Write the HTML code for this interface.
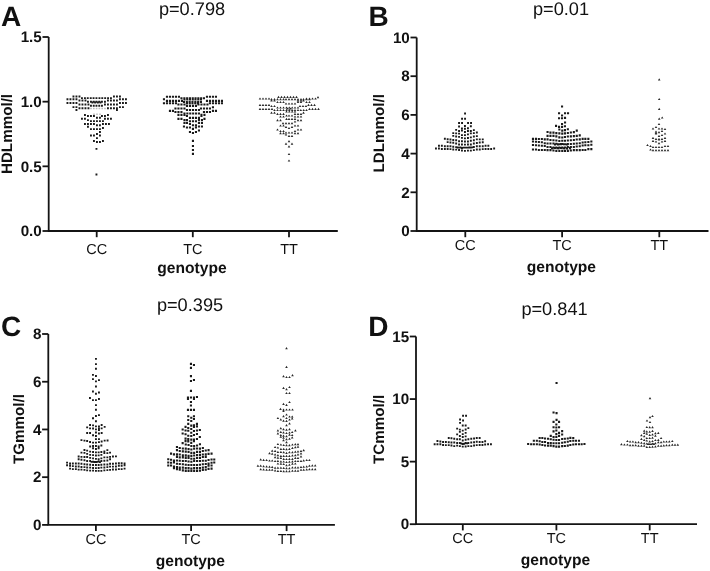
<!DOCTYPE html>
<html><head><meta charset="utf-8"><style>
html,body{margin:0;padding:0;background:#fff;}
svg{display:block;will-change:transform;}
text{font-family:"Liberation Sans", sans-serif;fill:#111111;text-rendering:geometricPrecision;}
</style></head><body>
<svg width="710" height="571" viewBox="0 0 710 571">
<rect width="710" height="571" fill="#fff"/>
<path d="M48.7 37.0V231.0H337.8" fill="none" stroke="#141414" stroke-width="1.8"/>
<path d="M42.5 37.00H48.7" stroke="#141414" stroke-width="1.8"/>
<text x="41.80" y="42.20" font-size="15.2" font-weight="bold" text-anchor="end">1.5</text>
<path d="M42.5 101.67H48.7" stroke="#141414" stroke-width="1.8"/>
<text x="41.80" y="106.87" font-size="15.2" font-weight="bold" text-anchor="end">1.0</text>
<path d="M42.5 166.33H48.7" stroke="#141414" stroke-width="1.8"/>
<text x="41.80" y="171.53" font-size="15.2" font-weight="bold" text-anchor="end">0.5</text>
<path d="M42.5 231.00H48.7" stroke="#141414" stroke-width="1.8"/>
<text x="41.80" y="236.20" font-size="15.2" font-weight="bold" text-anchor="end">0.0</text>
<path d="M96.7 231.0V237.20" stroke="#141414" stroke-width="1.8"/>
<text x="96.70" y="254.00" font-size="14.5" text-anchor="middle">CC</text>
<path d="M192.8 231.0V237.20" stroke="#141414" stroke-width="1.8"/>
<text x="192.80" y="254.00" font-size="14.5" text-anchor="middle">TC</text>
<path d="M289.0 231.0V237.20" stroke="#141414" stroke-width="1.8"/>
<text x="289.00" y="254.00" font-size="14.5" text-anchor="middle">TT</text>
<text x="192.0" y="14.6" font-size="18.2" text-anchor="middle">p=0.798</text>
<text x="192.0" y="273.0" font-size="15.6" font-weight="bold" text-anchor="middle">genotype</text>
<text x="0.9" y="25.9" font-size="28" font-weight="bold">A</text>
<text transform="translate(12.3 134.0) rotate(-90)" font-size="15.2" font-weight="bold" text-anchor="middle">HDLmmol/l</text>
<path d="M416.7 37.5V231.0H708.5" fill="none" stroke="#141414" stroke-width="1.8"/>
<path d="M410.5 37.50H416.7" stroke="#141414" stroke-width="1.8"/>
<text x="409.80" y="42.70" font-size="15.2" font-weight="bold" text-anchor="end">10</text>
<path d="M410.5 76.20H416.7" stroke="#141414" stroke-width="1.8"/>
<text x="409.80" y="81.40" font-size="15.2" font-weight="bold" text-anchor="end">8</text>
<path d="M410.5 114.90H416.7" stroke="#141414" stroke-width="1.8"/>
<text x="409.80" y="120.10" font-size="15.2" font-weight="bold" text-anchor="end">6</text>
<path d="M410.5 153.60H416.7" stroke="#141414" stroke-width="1.8"/>
<text x="409.80" y="158.80" font-size="15.2" font-weight="bold" text-anchor="end">4</text>
<path d="M410.5 192.30H416.7" stroke="#141414" stroke-width="1.8"/>
<text x="409.80" y="197.50" font-size="15.2" font-weight="bold" text-anchor="end">2</text>
<path d="M410.5 231.00H416.7" stroke="#141414" stroke-width="1.8"/>
<text x="409.80" y="236.20" font-size="15.2" font-weight="bold" text-anchor="end">0</text>
<path d="M465.3 231.0V237.20" stroke="#141414" stroke-width="1.8"/>
<text x="465.30" y="250.00" font-size="14.5" text-anchor="middle">CC</text>
<path d="M562.1 231.0V237.20" stroke="#141414" stroke-width="1.8"/>
<text x="562.10" y="250.00" font-size="14.5" text-anchor="middle">TC</text>
<path d="M659.3 231.0V237.20" stroke="#141414" stroke-width="1.8"/>
<text x="659.30" y="250.00" font-size="14.5" text-anchor="middle">TT</text>
<text x="561.0" y="14.5" font-size="18.2" text-anchor="middle">p=0.01</text>
<text x="561.4" y="272.0" font-size="15.6" font-weight="bold" text-anchor="middle">genotype</text>
<text x="368.4" y="25.9" font-size="28" font-weight="bold">B</text>
<text transform="translate(383.6 133.2) rotate(-90)" font-size="15.2" font-weight="bold" text-anchor="middle">LDLmmol/l</text>
<path d="M48.3 334.0V524.9H334.9" fill="none" stroke="#141414" stroke-width="1.8"/>
<path d="M42.099999999999994 334.00H48.3" stroke="#141414" stroke-width="1.8"/>
<text x="41.40" y="339.20" font-size="15.2" font-weight="bold" text-anchor="end">8</text>
<path d="M42.099999999999994 381.73H48.3" stroke="#141414" stroke-width="1.8"/>
<text x="41.40" y="386.93" font-size="15.2" font-weight="bold" text-anchor="end">6</text>
<path d="M42.099999999999994 429.45H48.3" stroke="#141414" stroke-width="1.8"/>
<text x="41.40" y="434.65" font-size="15.2" font-weight="bold" text-anchor="end">4</text>
<path d="M42.099999999999994 477.17H48.3" stroke="#141414" stroke-width="1.8"/>
<text x="41.40" y="482.37" font-size="15.2" font-weight="bold" text-anchor="end">2</text>
<path d="M42.099999999999994 524.90H48.3" stroke="#141414" stroke-width="1.8"/>
<text x="41.40" y="530.10" font-size="15.2" font-weight="bold" text-anchor="end">0</text>
<path d="M95.9 524.9V531.10" stroke="#141414" stroke-width="1.8"/>
<text x="95.90" y="543.80" font-size="14.5" text-anchor="middle">CC</text>
<path d="M191.1 524.9V531.10" stroke="#141414" stroke-width="1.8"/>
<text x="191.10" y="543.80" font-size="14.5" text-anchor="middle">TC</text>
<path d="M286.6 524.9V531.10" stroke="#141414" stroke-width="1.8"/>
<text x="286.60" y="543.80" font-size="14.5" text-anchor="middle">TT</text>
<text x="190.0" y="311.4" font-size="18.2" text-anchor="middle">p=0.395</text>
<text x="190.4" y="565.7" font-size="15.6" font-weight="bold" text-anchor="middle">genotype</text>
<text x="0.9" y="336.2" font-size="28" font-weight="bold">C</text>
<text transform="translate(23.6 429.0) rotate(-90)" font-size="15.2" font-weight="bold" text-anchor="middle">TGmmol/l</text>
<path d="M416.0 336.5V524.2H697.0" fill="none" stroke="#141414" stroke-width="1.8"/>
<path d="M409.8 336.50H416.0" stroke="#141414" stroke-width="1.8"/>
<text x="409.10" y="341.70" font-size="15.2" font-weight="bold" text-anchor="end">15</text>
<path d="M409.8 399.07H416.0" stroke="#141414" stroke-width="1.8"/>
<text x="409.10" y="404.27" font-size="15.2" font-weight="bold" text-anchor="end">10</text>
<path d="M409.8 461.63H416.0" stroke="#141414" stroke-width="1.8"/>
<text x="409.10" y="466.83" font-size="15.2" font-weight="bold" text-anchor="end">5</text>
<path d="M409.8 524.20H416.0" stroke="#141414" stroke-width="1.8"/>
<text x="409.10" y="529.40" font-size="15.2" font-weight="bold" text-anchor="end">0</text>
<path d="M462.8 524.2V530.40" stroke="#141414" stroke-width="1.8"/>
<text x="462.80" y="542.90" font-size="14.5" text-anchor="middle">CC</text>
<path d="M556.4 524.2V530.40" stroke="#141414" stroke-width="1.8"/>
<text x="556.40" y="542.90" font-size="14.5" text-anchor="middle">TC</text>
<path d="M649.7 524.2V530.40" stroke="#141414" stroke-width="1.8"/>
<text x="649.70" y="542.90" font-size="14.5" text-anchor="middle">TT</text>
<text x="554.5" y="314.6" font-size="18.2" text-anchor="middle">p=0.841</text>
<text x="555.5" y="565.0" font-size="15.6" font-weight="bold" text-anchor="middle">genotype</text>
<text x="368.3" y="335.6" font-size="28" font-weight="bold">D</text>
<text transform="translate(384.2 429.5) rotate(-90)" font-size="15.2" font-weight="bold" text-anchor="middle">TCmmol/l</text>
<path fill="#1a1a1a" d="M72.5 95.5h1.9v1.9h-1.9zM75.5 95.5h1.9v1.9h-1.9zM78.5 95.5h1.9v1.9h-1.9zM113.0 95.5h1.9v1.9h-1.9zM116.0 95.5h1.9v1.9h-1.9zM119.0 95.5h1.9v1.9h-1.9zM81.0 97.2h1.9v1.9h-1.9zM84.0 97.2h1.9v1.9h-1.9zM86.8 97.2h1.9v1.9h-1.9zM89.8 97.2h1.9v1.9h-1.9zM92.6 97.2h1.9v1.9h-1.9zM95.5 97.2h1.9v1.9h-1.9zM98.5 97.2h1.9v1.9h-1.9zM101.3 97.2h1.9v1.9h-1.9zM104.2 97.2h1.9v1.9h-1.9zM107.1 97.2h1.9v1.9h-1.9zM110.0 97.2h1.9v1.9h-1.9zM66.5 98.3h1.9v1.9h-1.9zM69.5 98.3h1.9v1.9h-1.9zM72.5 98.3h1.9v1.9h-1.9zM75.5 98.3h1.9v1.9h-1.9zM119.0 98.3h1.9v1.9h-1.9zM122.0 98.3h1.9v1.9h-1.9zM125.0 98.3h1.9v1.9h-1.9zM78.5 99.5h1.9v1.9h-1.9zM81.5 99.5h1.9v1.9h-1.9zM84.5 99.5h1.9v1.9h-1.9zM107.0 99.5h1.9v1.9h-1.9zM110.0 99.5h1.9v1.9h-1.9zM113.0 99.5h1.9v1.9h-1.9zM116.0 99.5h1.9v1.9h-1.9zM87.0 100.8h1.9v1.9h-1.9zM90.0 100.8h1.9v1.9h-1.9zM92.8 100.8h1.9v1.9h-1.9zM95.5 100.8h1.9v1.9h-1.9zM98.3 100.8h1.9v1.9h-1.9zM101.0 100.8h1.9v1.9h-1.9zM104.0 100.8h1.9v1.9h-1.9zM91.5 101.5h1.9v1.9h-1.9zM94.2 101.5h1.9v1.9h-1.9zM96.9 101.5h1.9v1.9h-1.9zM99.5 101.5h1.9v1.9h-1.9zM66.5 102.0h1.9v1.9h-1.9zM69.5 102.0h1.9v1.9h-1.9zM72.5 102.0h1.9v1.9h-1.9zM75.5 102.0h1.9v1.9h-1.9zM119.0 102.0h1.9v1.9h-1.9zM122.0 102.0h1.9v1.9h-1.9zM125.0 102.0h1.9v1.9h-1.9zM78.5 103.5h1.9v1.9h-1.9zM81.5 103.5h1.9v1.9h-1.9zM84.5 103.5h1.9v1.9h-1.9zM87.5 103.5h1.9v1.9h-1.9zM104.0 103.5h1.9v1.9h-1.9zM107.0 103.5h1.9v1.9h-1.9zM110.0 103.5h1.9v1.9h-1.9zM113.0 103.5h1.9v1.9h-1.9zM116.0 103.5h1.9v1.9h-1.9zM90.0 104.8h1.9v1.9h-1.9zM92.8 104.8h1.9v1.9h-1.9zM95.5 104.8h1.9v1.9h-1.9zM98.3 104.8h1.9v1.9h-1.9zM101.0 104.8h1.9v1.9h-1.9zM72.5 106.2h1.9v1.9h-1.9zM75.5 106.2h1.9v1.9h-1.9zM119.0 106.2h1.9v1.9h-1.9zM122.0 106.2h1.9v1.9h-1.9zM78.5 107.3h1.9v1.9h-1.9zM81.5 107.3h1.9v1.9h-1.9zM84.5 107.3h1.9v1.9h-1.9zM87.5 107.3h1.9v1.9h-1.9zM107.0 107.3h1.9v1.9h-1.9zM110.0 107.3h1.9v1.9h-1.9zM113.0 107.3h1.9v1.9h-1.9zM116.0 107.3h1.9v1.9h-1.9zM75.5 109.0h1.9v1.9h-1.9zM116.0 109.0h1.9v1.9h-1.9zM84.0 114.0h1.9v1.9h-1.9zM107.0 114.0h1.9v1.9h-1.9zM87.0 115.0h1.9v1.9h-1.9zM90.0 115.0h1.9v1.9h-1.9zM93.0 115.0h1.9v1.9h-1.9zM101.0 115.0h1.9v1.9h-1.9zM104.0 115.0h1.9v1.9h-1.9zM96.0 116.8h1.9v1.9h-1.9zM99.0 116.8h1.9v1.9h-1.9zM81.0 117.8h1.9v1.9h-1.9zM84.0 117.8h1.9v1.9h-1.9zM104.0 117.8h1.9v1.9h-1.9zM107.0 117.8h1.9v1.9h-1.9zM110.0 117.8h1.9v1.9h-1.9zM87.0 119.2h1.9v1.9h-1.9zM90.0 120.2h1.9v1.9h-1.9zM93.0 120.2h1.9v1.9h-1.9zM96.0 120.2h1.9v1.9h-1.9zM99.0 120.2h1.9v1.9h-1.9zM102.0 120.2h1.9v1.9h-1.9zM84.0 123.0h1.9v1.9h-1.9zM87.0 123.0h1.9v1.9h-1.9zM90.0 123.0h1.9v1.9h-1.9zM93.0 123.0h1.9v1.9h-1.9zM102.0 123.0h1.9v1.9h-1.9zM105.0 123.0h1.9v1.9h-1.9zM108.0 123.0h1.9v1.9h-1.9zM96.0 124.3h1.9v1.9h-1.9zM99.0 124.3h1.9v1.9h-1.9zM87.0 125.8h1.9v1.9h-1.9zM102.0 127.0h1.9v1.9h-1.9zM90.0 128.2h1.9v1.9h-1.9zM93.0 128.2h1.9v1.9h-1.9zM96.0 128.2h1.9v1.9h-1.9zM99.0 128.2h1.9v1.9h-1.9zM99.0 131.1h1.9v1.9h-1.9zM96.0 133.1h1.9v1.9h-1.9zM90.0 134.6h1.9v1.9h-1.9zM93.0 134.6h1.9v1.9h-1.9zM99.0 134.6h1.9v1.9h-1.9zM96.0 137.2h1.9v1.9h-1.9zM93.0 140.1h1.9v1.9h-1.9zM102.0 140.1h1.9v1.9h-1.9zM96.0 141.1h1.9v1.9h-1.9zM99.0 141.1h1.9v1.9h-1.9zM95.5 147.9h1.9v1.9h-1.9zM95.5 173.5h1.9v1.9h-1.9z"/>
<path fill="#bbbbbb" d="M90.2 107.7h1.6v1.6h-1.6zM93.0 107.7h1.6v1.6h-1.6zM95.8 107.7h1.6v1.6h-1.6zM98.6 107.7h1.6v1.6h-1.6zM101.4 107.7h1.6v1.6h-1.6zM104.2 107.7h1.6v1.6h-1.6zM93.2 113.4h1.6v1.6h-1.6zM96.2 113.4h1.6v1.6h-1.6zM99.2 113.4h1.6v1.6h-1.6z"/>
<path fill="#1a1a1a" d="M165.9 95.7h2.1v2.1h-2.1zM168.9 95.7h2.1v2.1h-2.1zM171.9 95.7h2.1v2.1h-2.1zM174.9 95.7h2.1v2.1h-2.1zM177.9 95.7h2.1v2.1h-2.1zM205.9 95.7h2.1v2.1h-2.1zM208.9 95.7h2.1v2.1h-2.1zM211.9 95.7h2.1v2.1h-2.1zM214.9 95.7h2.1v2.1h-2.1zM180.4 97.2h2.1v2.1h-2.1zM183.3 97.2h2.1v2.1h-2.1zM186.1 97.2h2.1v2.1h-2.1zM188.9 97.2h2.1v2.1h-2.1zM191.7 97.2h2.1v2.1h-2.1zM194.5 97.2h2.1v2.1h-2.1zM197.3 97.2h2.1v2.1h-2.1zM200.1 97.2h2.1v2.1h-2.1zM202.9 97.2h2.1v2.1h-2.1zM162.9 98.2h2.1v2.1h-2.1zM183.4 98.5h2.1v2.1h-2.1zM186.2 98.5h2.1v2.1h-2.1zM188.9 98.5h2.1v2.1h-2.1zM191.7 98.5h2.1v2.1h-2.1zM194.4 98.5h2.1v2.1h-2.1zM197.2 98.5h2.1v2.1h-2.1zM199.9 98.5h2.1v2.1h-2.1zM165.9 99.8h2.1v2.1h-2.1zM168.9 99.8h2.1v2.1h-2.1zM171.9 99.8h2.1v2.1h-2.1zM174.9 99.8h2.1v2.1h-2.1zM177.9 99.8h2.1v2.1h-2.1zM180.9 99.8h2.1v2.1h-2.1zM205.9 99.8h2.1v2.1h-2.1zM208.9 99.8h2.1v2.1h-2.1zM211.9 99.8h2.1v2.1h-2.1zM214.9 99.8h2.1v2.1h-2.1zM217.9 99.8h2.1v2.1h-2.1zM220.9 99.8h2.1v2.1h-2.1zM182.9 101.0h2.1v2.1h-2.1zM185.8 101.0h2.1v2.1h-2.1zM188.6 101.0h2.1v2.1h-2.1zM191.4 101.0h2.1v2.1h-2.1zM194.3 101.0h2.1v2.1h-2.1zM197.1 101.0h2.1v2.1h-2.1zM199.9 101.0h2.1v2.1h-2.1zM162.9 102.2h2.1v2.1h-2.1zM165.9 102.2h2.1v2.1h-2.1zM168.9 102.2h2.1v2.1h-2.1zM171.9 102.2h2.1v2.1h-2.1zM174.9 102.2h2.1v2.1h-2.1zM208.9 102.2h2.1v2.1h-2.1zM211.9 102.2h2.1v2.1h-2.1zM214.9 102.2h2.1v2.1h-2.1zM217.9 102.2h2.1v2.1h-2.1zM220.9 102.2h2.1v2.1h-2.1zM185.9 102.2h2.1v2.1h-2.1zM188.7 102.2h2.1v2.1h-2.1zM191.4 102.2h2.1v2.1h-2.1zM194.2 102.2h2.1v2.1h-2.1zM196.9 102.2h2.1v2.1h-2.1zM177.4 103.5h2.1v2.1h-2.1zM180.4 103.5h2.1v2.1h-2.1zM183.4 103.5h2.1v2.1h-2.1zM197.4 103.5h2.1v2.1h-2.1zM200.4 103.5h2.1v2.1h-2.1zM203.4 103.5h2.1v2.1h-2.1zM206.4 103.5h2.1v2.1h-2.1zM185.9 104.8h2.1v2.1h-2.1zM188.9 104.8h2.1v2.1h-2.1zM191.9 104.8h2.1v2.1h-2.1zM194.9 104.8h2.1v2.1h-2.1zM211.9 106.2h2.1v2.1h-2.1zM174.4 107.5h2.1v2.1h-2.1zM177.4 107.5h2.1v2.1h-2.1zM180.4 107.5h2.1v2.1h-2.1zM183.4 107.5h2.1v2.1h-2.1zM199.9 107.5h2.1v2.1h-2.1zM202.9 107.5h2.1v2.1h-2.1zM205.9 107.5h2.1v2.1h-2.1zM208.9 107.5h2.1v2.1h-2.1zM185.9 109.0h2.1v2.1h-2.1zM188.9 109.0h2.1v2.1h-2.1zM191.9 109.0h2.1v2.1h-2.1zM194.9 109.0h2.1v2.1h-2.1zM197.9 109.0h2.1v2.1h-2.1zM168.9 109.8h2.1v2.1h-2.1zM171.9 109.8h2.1v2.1h-2.1zM211.9 109.8h2.1v2.1h-2.1zM214.9 109.8h2.1v2.1h-2.1zM174.4 111.0h2.1v2.1h-2.1zM177.4 111.0h2.1v2.1h-2.1zM180.4 111.0h2.1v2.1h-2.1zM202.9 111.0h2.1v2.1h-2.1zM205.9 111.0h2.1v2.1h-2.1zM208.9 111.0h2.1v2.1h-2.1zM183.4 112.5h2.1v2.1h-2.1zM186.3 112.5h2.1v2.1h-2.1zM189.2 112.5h2.1v2.1h-2.1zM192.1 112.5h2.1v2.1h-2.1zM195.0 112.5h2.1v2.1h-2.1zM197.9 112.5h2.1v2.1h-2.1zM177.4 113.8h2.1v2.1h-2.1zM180.4 113.8h2.1v2.1h-2.1zM183.4 113.8h2.1v2.1h-2.1zM200.4 113.8h2.1v2.1h-2.1zM203.4 113.8h2.1v2.1h-2.1zM185.9 115.0h2.1v2.1h-2.1zM200.4 115.0h2.1v2.1h-2.1zM188.9 116.8h2.1v2.1h-2.1zM191.9 116.8h2.1v2.1h-2.1zM194.9 116.8h2.1v2.1h-2.1zM197.9 116.8h2.1v2.1h-2.1zM177.4 117.8h2.1v2.1h-2.1zM180.4 117.8h2.1v2.1h-2.1zM203.4 117.8h2.1v2.1h-2.1zM183.4 119.0h2.1v2.1h-2.1zM185.9 119.0h2.1v2.1h-2.1zM197.9 119.0h2.1v2.1h-2.1zM200.9 119.0h2.1v2.1h-2.1zM188.9 120.2h2.1v2.1h-2.1zM191.9 120.2h2.1v2.1h-2.1zM194.9 120.2h2.1v2.1h-2.1zM183.4 121.8h2.1v2.1h-2.1zM185.9 121.8h2.1v2.1h-2.1zM197.9 121.8h2.1v2.1h-2.1zM200.9 121.8h2.1v2.1h-2.1zM188.9 123.0h2.1v2.1h-2.1zM191.9 124.2h2.1v2.1h-2.1zM194.9 124.2h2.1v2.1h-2.1zM182.9 125.5h2.1v2.1h-2.1zM197.9 125.5h2.1v2.1h-2.1zM200.9 125.5h2.1v2.1h-2.1zM185.9 126.5h2.1v2.1h-2.1zM188.9 126.5h2.1v2.1h-2.1zM194.9 126.5h2.1v2.1h-2.1zM191.9 127.8h2.1v2.1h-2.1zM197.9 129.4h2.1v2.1h-2.1zM188.9 130.9h2.1v2.1h-2.1zM194.9 130.9h2.1v2.1h-2.1zM191.9 131.9h2.1v2.1h-2.1zM191.9 139.8h2.1v2.1h-2.1zM191.9 144.9h2.1v2.1h-2.1zM191.9 148.9h2.1v2.1h-2.1zM191.9 152.8h2.1v2.1h-2.1z"/>
<path fill="#2a2a2a" d="M277.2 97.9l1.30-2.2l1.30 2.2zM280.2 97.9l1.30-2.2l1.30 2.2zM283.2 97.9l1.30-2.2l1.30 2.2zM286.2 97.9l1.30-2.2l1.30 2.2zM289.2 97.9l1.30-2.2l1.30 2.2zM292.2 97.9l1.30-2.2l1.30 2.2zM295.2 97.9l1.30-2.2l1.30 2.2zM316.7 98.3l1.30-2.2l1.30 2.2zM258.7 99.6l1.30-2.2l1.30 2.2zM261.7 99.6l1.30-2.2l1.30 2.2zM264.7 99.6l1.30-2.2l1.30 2.2zM267.7 99.6l1.30-2.2l1.30 2.2zM305.2 99.6l1.30-2.2l1.30 2.2zM308.2 99.6l1.30-2.2l1.30 2.2zM311.2 99.6l1.30-2.2l1.30 2.2zM314.2 99.6l1.30-2.2l1.30 2.2zM270.2 100.3l1.30-2.2l1.30 2.2zM273.2 100.3l1.30-2.2l1.30 2.2zM276.2 100.3l1.30-2.2l1.30 2.2zM279.2 100.3l1.30-2.2l1.30 2.2zM282.2 100.3l1.30-2.2l1.30 2.2zM284.7 100.3l1.30-2.2l1.30 2.2zM287.7 100.3l1.30-2.2l1.30 2.2zM290.7 100.3l1.30-2.2l1.30 2.2zM293.7 100.3l1.30-2.2l1.30 2.2zM296.7 100.3l1.30-2.2l1.30 2.2zM299.7 100.3l1.30-2.2l1.30 2.2zM302.2 100.3l1.30-2.2l1.30 2.2zM305.2 100.3l1.30-2.2l1.30 2.2zM308.2 100.3l1.30-2.2l1.30 2.2zM270.2 101.6l1.30-2.2l1.30 2.2zM273.2 101.6l1.30-2.2l1.30 2.2zM296.7 101.6l1.30-2.2l1.30 2.2zM299.7 101.6l1.30-2.2l1.30 2.2zM302.2 101.6l1.30-2.2l1.30 2.2zM276.2 103.1l1.30-2.2l1.30 2.2zM279.2 103.1l1.30-2.2l1.30 2.2zM282.2 103.1l1.30-2.2l1.30 2.2zM296.7 103.1l1.30-2.2l1.30 2.2zM299.7 103.1l1.30-2.2l1.30 2.2zM305.2 103.1l1.30-2.2l1.30 2.2zM308.2 103.1l1.30-2.2l1.30 2.2zM284.7 104.6l1.30-2.2l1.30 2.2zM287.7 104.6l1.30-2.2l1.30 2.2zM290.7 104.6l1.30-2.2l1.30 2.2zM293.7 104.6l1.30-2.2l1.30 2.2zM258.7 105.9l1.30-2.2l1.30 2.2zM261.7 105.9l1.30-2.2l1.30 2.2zM264.7 105.9l1.30-2.2l1.30 2.2zM267.7 105.9l1.30-2.2l1.30 2.2zM307.2 105.9l1.30-2.2l1.30 2.2zM310.2 105.9l1.30-2.2l1.30 2.2zM313.2 105.9l1.30-2.2l1.30 2.2zM270.2 107.1l1.30-2.2l1.30 2.2zM273.2 107.1l1.30-2.2l1.30 2.2zM298.7 107.1l1.30-2.2l1.30 2.2zM301.7 107.1l1.30-2.2l1.30 2.2zM304.7 107.1l1.30-2.2l1.30 2.2zM276.2 108.6l1.30-2.2l1.30 2.2zM279.2 108.6l1.30-2.2l1.30 2.2zM282.2 108.6l1.30-2.2l1.30 2.2zM285.2 108.6l1.30-2.2l1.30 2.2zM288.0 108.6l1.30-2.2l1.30 2.2zM290.9 108.6l1.30-2.2l1.30 2.2zM293.7 108.6l1.30-2.2l1.30 2.2zM296.7 108.6l1.30-2.2l1.30 2.2zM286.2 109.6l1.30-2.2l1.30 2.2zM289.2 109.6l1.30-2.2l1.30 2.2zM258.7 109.9l1.30-2.2l1.30 2.2zM261.7 109.9l1.30-2.2l1.30 2.2zM264.7 109.9l1.30-2.2l1.30 2.2zM267.7 109.9l1.30-2.2l1.30 2.2zM270.7 109.9l1.30-2.2l1.30 2.2zM308.2 109.9l1.30-2.2l1.30 2.2zM311.2 109.9l1.30-2.2l1.30 2.2zM314.2 109.9l1.30-2.2l1.30 2.2zM317.2 109.9l1.30-2.2l1.30 2.2zM273.2 111.1l1.30-2.2l1.30 2.2zM276.2 111.1l1.30-2.2l1.30 2.2zM279.2 111.1l1.30-2.2l1.30 2.2zM282.2 111.1l1.30-2.2l1.30 2.2zM285.2 111.1l1.30-2.2l1.30 2.2zM288.0 111.1l1.30-2.2l1.30 2.2zM290.9 111.1l1.30-2.2l1.30 2.2zM293.7 111.1l1.30-2.2l1.30 2.2zM296.7 111.1l1.30-2.2l1.30 2.2zM299.5 111.1l1.30-2.2l1.30 2.2zM302.4 111.1l1.30-2.2l1.30 2.2zM305.2 111.1l1.30-2.2l1.30 2.2zM285.2 112.6l1.30-2.2l1.30 2.2zM288.0 112.6l1.30-2.2l1.30 2.2zM290.9 112.6l1.30-2.2l1.30 2.2zM293.7 112.6l1.30-2.2l1.30 2.2zM270.2 113.8l1.30-2.2l1.30 2.2zM273.2 113.8l1.30-2.2l1.30 2.2zM302.2 113.8l1.30-2.2l1.30 2.2zM276.2 114.9l1.30-2.2l1.30 2.2zM279.2 114.9l1.30-2.2l1.30 2.2zM282.2 114.9l1.30-2.2l1.30 2.2zM293.7 114.9l1.30-2.2l1.30 2.2zM296.7 114.9l1.30-2.2l1.30 2.2zM299.7 114.9l1.30-2.2l1.30 2.2zM285.2 116.6l1.30-2.2l1.30 2.2zM287.7 116.6l1.30-2.2l1.30 2.2zM290.7 116.6l1.30-2.2l1.30 2.2zM279.2 117.6l1.30-2.2l1.30 2.2zM282.2 117.6l1.30-2.2l1.30 2.2zM293.7 117.6l1.30-2.2l1.30 2.2zM296.7 117.6l1.30-2.2l1.30 2.2zM299.7 117.6l1.30-2.2l1.30 2.2zM285.2 119.9l1.30-2.2l1.30 2.2zM287.7 119.9l1.30-2.2l1.30 2.2zM290.7 119.9l1.30-2.2l1.30 2.2zM293.7 119.9l1.30-2.2l1.30 2.2zM276.2 121.3l1.30-2.2l1.30 2.2zM279.2 121.3l1.30-2.2l1.30 2.2zM296.7 121.3l1.30-2.2l1.30 2.2zM299.7 121.3l1.30-2.2l1.30 2.2zM293.7 122.6l1.30-2.2l1.30 2.2zM281.7 124.3l1.30-2.2l1.30 2.2zM284.7 124.3l1.30-2.2l1.30 2.2zM287.7 124.3l1.30-2.2l1.30 2.2zM290.7 124.3l1.30-2.2l1.30 2.2zM279.2 126.6l1.30-2.2l1.30 2.2zM282.2 126.6l1.30-2.2l1.30 2.2zM293.7 126.6l1.30-2.2l1.30 2.2zM296.7 126.6l1.30-2.2l1.30 2.2zM284.7 127.9l1.30-2.2l1.30 2.2zM290.7 127.9l1.30-2.2l1.30 2.2zM287.7 129.1l1.30-2.2l1.30 2.2zM276.2 130.6l1.30-2.2l1.30 2.2zM296.7 130.6l1.30-2.2l1.30 2.2zM299.7 130.6l1.30-2.2l1.30 2.2zM279.2 132.1l1.30-2.2l1.30 2.2zM282.2 132.1l1.30-2.2l1.30 2.2zM293.7 132.1l1.30-2.2l1.30 2.2zM284.7 133.6l1.30-2.2l1.30 2.2zM287.7 133.6l1.30-2.2l1.30 2.2zM290.7 133.6l1.30-2.2l1.30 2.2zM279.2 134.3l1.30-2.2l1.30 2.2zM282.2 134.3l1.30-2.2l1.30 2.2zM293.7 134.3l1.30-2.2l1.30 2.2zM296.7 134.3l1.30-2.2l1.30 2.2zM284.7 135.6l1.30-2.2l1.30 2.2zM287.7 136.9l1.30-2.2l1.30 2.2zM290.7 136.9l1.30-2.2l1.30 2.2zM287.7 142.3l1.30-2.2l1.30 2.2zM284.7 144.8l1.30-2.2l1.30 2.2zM290.7 144.8l1.30-2.2l1.30 2.2zM287.7 147.4l1.30-2.2l1.30 2.2zM287.7 155.1l1.30-2.2l1.30 2.2zM287.7 161.6l1.30-2.2l1.30 2.2z"/>
<path fill="#1a1a1a" d="M464.1 112.5h1.9v1.9h-1.9zM461.1 117.8h1.9v1.9h-1.9zM464.1 117.8h1.9v1.9h-1.9zM458.1 122.0h1.9v1.9h-1.9zM461.1 122.0h1.9v1.9h-1.9zM467.1 122.0h1.9v1.9h-1.9zM470.1 122.0h1.9v1.9h-1.9zM435.0 147.6h1.9v1.9h-1.9zM438.0 144.8h1.9v1.9h-1.9zM438.0 147.6h1.9v1.9h-1.9zM440.9 144.8h1.9v1.9h-1.9zM440.9 148.1h1.9v1.9h-1.9zM443.9 137.8h1.9v1.9h-1.9zM443.9 145.3h1.9v1.9h-1.9zM443.9 148.1h1.9v1.9h-1.9zM446.7 138.3h1.9v1.9h-1.9zM446.7 141.2h1.9v1.9h-1.9zM446.7 145.3h1.9v1.9h-1.9zM446.7 148.1h1.9v1.9h-1.9zM449.5 138.5h1.9v1.9h-1.9zM449.5 141.6h1.9v1.9h-1.9zM449.5 145.3h1.9v1.9h-1.9zM449.5 148.2h1.9v1.9h-1.9zM452.3 132.2h1.9v1.9h-1.9zM452.3 134.9h1.9v1.9h-1.9zM452.3 139.1h1.9v1.9h-1.9zM452.3 141.8h1.9v1.9h-1.9zM452.3 145.8h1.9v1.9h-1.9zM452.3 148.5h1.9v1.9h-1.9zM455.2 128.9h1.9v1.9h-1.9zM455.2 132.4h1.9v1.9h-1.9zM455.2 135.6h1.9v1.9h-1.9zM455.2 139.3h1.9v1.9h-1.9zM455.2 142.6h1.9v1.9h-1.9zM455.2 146.2h1.9v1.9h-1.9zM455.2 148.7h1.9v1.9h-1.9zM458.1 125.6h1.9v1.9h-1.9zM458.1 130.0h1.9v1.9h-1.9zM458.1 132.7h1.9v1.9h-1.9zM458.1 135.9h1.9v1.9h-1.9zM458.1 140.3h1.9v1.9h-1.9zM458.1 143.5h1.9v1.9h-1.9zM458.1 146.7h1.9v1.9h-1.9zM458.1 149.1h1.9v1.9h-1.9zM461.0 127.5h1.9v1.9h-1.9zM461.0 129.7h1.9v1.9h-1.9zM461.0 134.2h1.9v1.9h-1.9zM461.0 136.9h1.9v1.9h-1.9zM461.0 140.3h1.9v1.9h-1.9zM461.0 143.5h1.9v1.9h-1.9zM461.0 147.0h1.9v1.9h-1.9zM461.0 149.5h1.9v1.9h-1.9zM464.0 125.0h1.9v1.9h-1.9zM464.0 127.8h1.9v1.9h-1.9zM464.0 131.0h1.9v1.9h-1.9zM464.0 134.2h1.9v1.9h-1.9zM464.0 137.4h1.9v1.9h-1.9zM464.0 140.6h1.9v1.9h-1.9zM464.0 143.7h1.9v1.9h-1.9zM464.0 146.7h1.9v1.9h-1.9zM464.0 149.9h1.9v1.9h-1.9zM467.0 127.3h1.9v1.9h-1.9zM467.0 130.0h1.9v1.9h-1.9zM467.0 133.4h1.9v1.9h-1.9zM467.0 137.1h1.9v1.9h-1.9zM467.0 140.6h1.9v1.9h-1.9zM467.0 143.5h1.9v1.9h-1.9zM467.0 146.7h1.9v1.9h-1.9zM467.0 149.7h1.9v1.9h-1.9zM469.9 125.3h1.9v1.9h-1.9zM469.9 130.0h1.9v1.9h-1.9zM469.9 132.4h1.9v1.9h-1.9zM469.9 136.4h1.9v1.9h-1.9zM469.9 139.8h1.9v1.9h-1.9zM469.9 143.5h1.9v1.9h-1.9zM469.9 146.5h1.9v1.9h-1.9zM469.9 149.7h1.9v1.9h-1.9zM472.9 129.2h1.9v1.9h-1.9zM472.9 132.2h1.9v1.9h-1.9zM472.9 135.6h1.9v1.9h-1.9zM472.9 139.3h1.9v1.9h-1.9zM472.9 142.6h1.9v1.9h-1.9zM472.9 146.0h1.9v1.9h-1.9zM472.9 149.2h1.9v1.9h-1.9zM475.9 131.5h1.9v1.9h-1.9zM475.9 135.2h1.9v1.9h-1.9zM475.9 138.4h1.9v1.9h-1.9zM475.9 142.1h1.9v1.9h-1.9zM475.9 145.3h1.9v1.9h-1.9zM475.9 148.5h1.9v1.9h-1.9zM478.8 138.4h1.9v1.9h-1.9zM478.8 141.6h1.9v1.9h-1.9zM478.8 145.3h1.9v1.9h-1.9zM478.8 148.5h1.9v1.9h-1.9zM481.8 138.4h1.9v1.9h-1.9zM481.8 141.3h1.9v1.9h-1.9zM481.8 145.3h1.9v1.9h-1.9zM481.8 148.2h1.9v1.9h-1.9zM484.6 144.8h1.9v1.9h-1.9zM484.6 148.0h1.9v1.9h-1.9zM487.4 144.8h1.9v1.9h-1.9zM487.4 148.0h1.9v1.9h-1.9zM490.2 148.0h1.9v1.9h-1.9zM493.2 147.6h1.9v1.9h-1.9zM456.6 146.5h1.9v1.9h-1.9zM459.6 146.6h1.9v1.9h-1.9zM462.4 146.7h1.9v1.9h-1.9zM465.4 146.7h1.9v1.9h-1.9zM468.4 146.6h1.9v1.9h-1.9zM471.4 146.4h1.9v1.9h-1.9z"/>
<path fill="#1a1a1a" d="M561.0 105.5h2.1v2.1h-2.1zM558.0 112.2h2.1v2.1h-2.1zM564.0 112.2h2.1v2.1h-2.1zM567.0 112.2h2.1v2.1h-2.1zM561.0 114.5h2.1v2.1h-2.1zM564.0 116.8h2.1v2.1h-2.1zM558.0 117.2h2.1v2.1h-2.1zM561.0 117.2h2.1v2.1h-2.1zM564.0 121.5h2.1v2.1h-2.1zM561.0 123.0h2.1v2.1h-2.1zM555.0 124.8h2.1v2.1h-2.1zM558.0 125.8h2.1v2.1h-2.1zM561.0 125.8h2.1v2.1h-2.1zM531.9 137.8h2.1v2.1h-2.1zM531.9 140.5h2.1v2.1h-2.1zM531.9 143.9h2.1v2.1h-2.1zM531.9 148.4h2.1v2.1h-2.1zM534.9 137.8h2.1v2.1h-2.1zM534.9 140.7h2.1v2.1h-2.1zM534.9 144.2h2.1v2.1h-2.1zM534.9 148.4h2.1v2.1h-2.1zM537.8 138.0h2.1v2.1h-2.1zM537.8 141.0h2.1v2.1h-2.1zM537.8 144.4h2.1v2.1h-2.1zM537.8 148.9h2.1v2.1h-2.1zM540.8 138.0h2.1v2.1h-2.1zM540.8 141.2h2.1v2.1h-2.1zM540.8 144.7h2.1v2.1h-2.1zM540.8 148.9h2.1v2.1h-2.1zM543.7 138.3h2.1v2.1h-2.1zM543.7 142.2h2.1v2.1h-2.1zM543.7 144.9h2.1v2.1h-2.1zM543.7 148.9h2.1v2.1h-2.1zM546.5 130.9h2.1v2.1h-2.1zM546.5 134.8h2.1v2.1h-2.1zM546.5 138.3h2.1v2.1h-2.1zM546.5 142.4h2.1v2.1h-2.1zM546.5 145.9h2.1v2.1h-2.1zM546.5 149.1h2.1v2.1h-2.1zM549.4 131.6h2.1v2.1h-2.1zM549.4 134.8h2.1v2.1h-2.1zM549.4 139.0h2.1v2.1h-2.1zM549.4 142.4h2.1v2.1h-2.1zM549.4 145.9h2.1v2.1h-2.1zM549.4 149.1h2.1v2.1h-2.1zM552.4 131.6h2.1v2.1h-2.1zM552.4 134.8h2.1v2.1h-2.1zM552.4 139.2h2.1v2.1h-2.1zM552.4 142.4h2.1v2.1h-2.1zM552.4 146.6h2.1v2.1h-2.1zM552.4 149.4h2.1v2.1h-2.1zM555.3 132.1h2.1v2.1h-2.1zM555.3 135.3h2.1v2.1h-2.1zM555.3 139.5h2.1v2.1h-2.1zM555.3 142.7h2.1v2.1h-2.1zM555.3 146.6h2.1v2.1h-2.1zM555.3 149.8h2.1v2.1h-2.1zM558.3 128.4h2.1v2.1h-2.1zM558.3 132.3h2.1v2.1h-2.1zM558.3 136.3h2.1v2.1h-2.1zM558.3 140.0h2.1v2.1h-2.1zM558.3 143.2h2.1v2.1h-2.1zM558.3 146.6h2.1v2.1h-2.1zM558.3 149.8h2.1v2.1h-2.1zM561.2 129.6h2.1v2.1h-2.1zM561.2 132.6h2.1v2.1h-2.1zM561.2 136.5h2.1v2.1h-2.1zM561.2 139.7h2.1v2.1h-2.1zM561.2 142.9h2.1v2.1h-2.1zM561.2 146.6h2.1v2.1h-2.1zM561.2 149.8h2.1v2.1h-2.1zM563.9 125.2h2.1v2.1h-2.1zM563.9 129.1h2.1v2.1h-2.1zM563.9 132.3h2.1v2.1h-2.1zM563.9 136.0h2.1v2.1h-2.1zM563.9 139.7h2.1v2.1h-2.1zM563.9 143.2h2.1v2.1h-2.1zM563.9 146.4h2.1v2.1h-2.1zM563.9 149.8h2.1v2.1h-2.1zM566.8 128.2h2.1v2.1h-2.1zM566.8 131.9h2.1v2.1h-2.1zM566.8 135.5h2.1v2.1h-2.1zM566.8 139.5h2.1v2.1h-2.1zM566.8 142.9h2.1v2.1h-2.1zM566.8 145.9h2.1v2.1h-2.1zM566.8 149.8h2.1v2.1h-2.1zM569.8 131.4h2.1v2.1h-2.1zM569.8 135.3h2.1v2.1h-2.1zM569.8 139.2h2.1v2.1h-2.1zM569.8 142.9h2.1v2.1h-2.1zM569.8 145.9h2.1v2.1h-2.1zM569.8 149.4h2.1v2.1h-2.1zM572.8 131.1h2.1v2.1h-2.1zM572.8 135.1h2.1v2.1h-2.1zM572.8 139.0h2.1v2.1h-2.1zM572.8 142.7h2.1v2.1h-2.1zM572.8 145.9h2.1v2.1h-2.1zM572.8 149.1h2.1v2.1h-2.1zM575.7 129.6h2.1v2.1h-2.1zM575.7 134.8h2.1v2.1h-2.1zM575.7 138.5h2.1v2.1h-2.1zM575.7 142.4h2.1v2.1h-2.1zM575.7 145.4h2.1v2.1h-2.1zM575.7 149.1h2.1v2.1h-2.1zM578.7 134.3h2.1v2.1h-2.1zM578.7 138.3h2.1v2.1h-2.1zM578.7 142.2h2.1v2.1h-2.1zM578.7 145.2h2.1v2.1h-2.1zM578.7 149.1h2.1v2.1h-2.1zM581.6 137.8h2.1v2.1h-2.1zM581.6 141.5h2.1v2.1h-2.1zM581.6 144.4h2.1v2.1h-2.1zM581.6 148.9h2.1v2.1h-2.1zM584.3 137.8h2.1v2.1h-2.1zM584.3 141.2h2.1v2.1h-2.1zM584.3 144.2h2.1v2.1h-2.1zM584.3 148.9h2.1v2.1h-2.1zM587.3 137.8h2.1v2.1h-2.1zM587.3 141.0h2.1v2.1h-2.1zM587.3 144.2h2.1v2.1h-2.1zM587.3 148.1h2.1v2.1h-2.1zM590.3 140.5h2.1v2.1h-2.1zM590.3 143.7h2.1v2.1h-2.1zM590.3 148.1h2.1v2.1h-2.1zM554.0 143.5h2.1v2.1h-2.1zM557.0 143.3h2.1v2.1h-2.1zM560.0 143.1h2.1v2.1h-2.1zM563.0 143.2h2.1v2.1h-2.1zM566.0 143.5h2.1v2.1h-2.1zM551.0 147.2h2.1v2.1h-2.1zM554.0 146.9h2.1v2.1h-2.1zM557.0 147.1h2.1v2.1h-2.1zM560.0 146.9h2.1v2.1h-2.1zM563.0 147.2h2.1v2.1h-2.1zM566.0 147.3h2.1v2.1h-2.1zM569.0 147.1h2.1v2.1h-2.1z"/>
<path fill="#2a2a2a" d="M657.9 80.4l1.30-2.2l1.30 2.2zM657.9 100.1l1.30-2.2l1.30 2.2zM657.9 109.9l1.30-2.2l1.30 2.2zM660.9 118.6l1.30-2.2l1.30 2.2zM657.9 119.8l1.30-2.2l1.30 2.2zM657.7 125.1l1.30-2.2l1.30 2.2zM654.7 128.1l1.30-2.2l1.30 2.2zM651.7 129.6l1.30-2.2l1.30 2.2zM657.7 129.6l1.30-2.2l1.30 2.2zM660.7 129.6l1.30-2.2l1.30 2.2zM663.7 130.1l1.30-2.2l1.30 2.2zM660.7 132.1l1.30-2.2l1.30 2.2zM654.7 132.6l1.30-2.2l1.30 2.2zM654.7 133.9l1.30-2.2l1.30 2.2zM657.7 133.3l1.30-2.2l1.30 2.2zM654.7 134.6l1.30-2.2l1.30 2.2zM663.7 134.6l1.30-2.2l1.30 2.2zM660.7 136.1l1.30-2.2l1.30 2.2zM657.7 136.9l1.30-2.2l1.30 2.2zM651.7 138.9l1.30-2.2l1.30 2.2zM663.7 138.9l1.30-2.2l1.30 2.2zM654.7 139.9l1.30-2.2l1.30 2.2zM657.7 139.9l1.30-2.2l1.30 2.2zM660.7 139.9l1.30-2.2l1.30 2.2zM651.7 141.9l1.30-2.2l1.30 2.2zM663.7 141.9l1.30-2.2l1.30 2.2zM654.7 142.6l1.30-2.2l1.30 2.2zM660.7 142.6l1.30-2.2l1.30 2.2zM657.7 140.6l1.30-2.2l1.30 2.2zM657.7 144.3l1.30-2.2l1.30 2.2zM646.2 146.1l1.30-2.2l1.30 2.2zM649.2 147.1l1.30-2.2l1.30 2.2zM663.7 147.1l1.30-2.2l1.30 2.2zM666.7 147.1l1.30-2.2l1.30 2.2zM651.7 148.1l1.30-2.2l1.30 2.2zM654.7 148.1l1.30-2.2l1.30 2.2zM657.7 148.1l1.30-2.2l1.30 2.2zM660.7 148.1l1.30-2.2l1.30 2.2zM649.2 150.6l1.30-2.2l1.30 2.2zM651.7 151.3l1.30-2.2l1.30 2.2zM654.7 151.3l1.30-2.2l1.30 2.2zM657.7 151.3l1.30-2.2l1.30 2.2zM660.7 151.3l1.30-2.2l1.30 2.2zM663.7 151.3l1.30-2.2l1.30 2.2zM666.7 151.3l1.30-2.2l1.30 2.2z"/>
<path fill="#1a1a1a" d="M95.0 357.9h1.9v1.9h-1.9zM95.0 363.2h1.9v1.9h-1.9zM95.0 367.8h1.9v1.9h-1.9zM92.0 373.9h1.9v1.9h-1.9zM95.0 375.1h1.9v1.9h-1.9zM92.0 378.2h1.9v1.9h-1.9zM98.0 379.2h1.9v1.9h-1.9zM95.0 380.4h1.9v1.9h-1.9zM95.0 385.6h1.9v1.9h-1.9zM92.0 390.6h1.9v1.9h-1.9zM98.0 391.6h1.9v1.9h-1.9zM95.0 392.8h1.9v1.9h-1.9zM89.0 397.1h1.9v1.9h-1.9zM98.0 398.1h1.9v1.9h-1.9zM92.0 399.2h1.9v1.9h-1.9zM95.0 399.2h1.9v1.9h-1.9zM95.0 404.2h1.9v1.9h-1.9zM95.0 404.2h1.9v1.9h-1.9zM95.0 408.8h1.9v1.9h-1.9zM98.0 414.2h1.9v1.9h-1.9zM95.0 415.1h1.9v1.9h-1.9zM92.0 417.4h1.9v1.9h-1.9zM95.0 420.2h1.9v1.9h-1.9zM92.1 417.3h1.9v1.9h-1.9zM95.0 420.3h1.9v1.9h-1.9zM89.1 424.0h1.9v1.9h-1.9zM92.1 424.4h1.9v1.9h-1.9zM95.0 425.4h1.9v1.9h-1.9zM98.0 425.4h1.9v1.9h-1.9zM100.7 424.0h1.9v1.9h-1.9zM103.7 425.9h1.9v1.9h-1.9zM86.2 426.4h1.9v1.9h-1.9zM89.1 427.4h1.9v1.9h-1.9zM92.1 427.6h1.9v1.9h-1.9zM95.0 428.4h1.9v1.9h-1.9zM98.0 427.6h1.9v1.9h-1.9zM98.0 429.1h1.9v1.9h-1.9zM100.7 427.4h1.9v1.9h-1.9zM86.2 432.1h1.9v1.9h-1.9zM89.1 432.1h1.9v1.9h-1.9zM95.0 431.6h1.9v1.9h-1.9zM98.0 432.6h1.9v1.9h-1.9zM100.7 432.1h1.9v1.9h-1.9zM92.1 434.3h1.9v1.9h-1.9zM95.0 435.0h1.9v1.9h-1.9zM95.0 438.2h1.9v1.9h-1.9zM98.0 438.2h1.9v1.9h-1.9zM80.5 439.2h1.9v1.9h-1.9zM83.5 439.7h1.9v1.9h-1.9zM86.2 440.0h1.9v1.9h-1.9zM89.1 441.0h1.9v1.9h-1.9zM92.1 441.7h1.9v1.9h-1.9zM95.0 441.7h1.9v1.9h-1.9zM98.0 441.2h1.9v1.9h-1.9zM100.7 440.5h1.9v1.9h-1.9zM103.7 439.7h1.9v1.9h-1.9zM106.6 439.5h1.9v1.9h-1.9zM66.1 461.7h1.9v1.9h-1.9zM66.1 464.3h1.9v1.9h-1.9zM69.1 462.5h1.9v1.9h-1.9zM69.1 464.8h1.9v1.9h-1.9zM69.1 467.7h1.9v1.9h-1.9zM71.9 462.5h1.9v1.9h-1.9zM71.9 465.2h1.9v1.9h-1.9zM71.9 468.2h1.9v1.9h-1.9zM74.9 462.5h1.9v1.9h-1.9zM74.9 465.5h1.9v1.9h-1.9zM74.9 468.2h1.9v1.9h-1.9zM77.7 455.6h1.9v1.9h-1.9zM77.7 458.3h1.9v1.9h-1.9zM77.7 462.5h1.9v1.9h-1.9zM77.7 465.5h1.9v1.9h-1.9zM77.7 468.7h1.9v1.9h-1.9zM80.5 451.7h1.9v1.9h-1.9zM80.5 455.9h1.9v1.9h-1.9zM80.5 458.8h1.9v1.9h-1.9zM80.5 462.8h1.9v1.9h-1.9zM80.5 466.0h1.9v1.9h-1.9zM80.5 468.7h1.9v1.9h-1.9zM83.5 449.0h1.9v1.9h-1.9zM83.5 451.9h1.9v1.9h-1.9zM83.5 456.1h1.9v1.9h-1.9zM83.5 459.3h1.9v1.9h-1.9zM83.5 463.3h1.9v1.9h-1.9zM83.5 466.2h1.9v1.9h-1.9zM83.5 468.9h1.9v1.9h-1.9zM86.2 449.7h1.9v1.9h-1.9zM86.2 452.9h1.9v1.9h-1.9zM86.2 456.1h1.9v1.9h-1.9zM86.2 460.1h1.9v1.9h-1.9zM86.2 463.5h1.9v1.9h-1.9zM86.2 466.5h1.9v1.9h-1.9zM86.2 469.4h1.9v1.9h-1.9zM89.2 445.5h1.9v1.9h-1.9zM89.2 450.7h1.9v1.9h-1.9zM89.2 453.9h1.9v1.9h-1.9zM89.2 456.9h1.9v1.9h-1.9zM89.2 460.1h1.9v1.9h-1.9zM89.2 463.8h1.9v1.9h-1.9zM89.2 466.7h1.9v1.9h-1.9zM89.2 469.7h1.9v1.9h-1.9zM92.1 445.0h1.9v1.9h-1.9zM92.1 447.3h1.9v1.9h-1.9zM92.1 451.0h1.9v1.9h-1.9zM92.1 454.2h1.9v1.9h-1.9zM92.1 457.4h1.9v1.9h-1.9zM92.1 460.8h1.9v1.9h-1.9zM92.1 464.0h1.9v1.9h-1.9zM92.1 467.0h1.9v1.9h-1.9zM92.1 469.7h1.9v1.9h-1.9zM95.0 445.0h1.9v1.9h-1.9zM95.0 448.0h1.9v1.9h-1.9zM95.0 451.4h1.9v1.9h-1.9zM95.0 454.6h1.9v1.9h-1.9zM95.0 457.9h1.9v1.9h-1.9zM95.0 461.1h1.9v1.9h-1.9zM95.0 464.0h1.9v1.9h-1.9zM95.0 467.2h1.9v1.9h-1.9zM95.0 469.9h1.9v1.9h-1.9zM97.7 445.5h1.9v1.9h-1.9zM97.7 447.3h1.9v1.9h-1.9zM97.7 451.4h1.9v1.9h-1.9zM97.7 454.4h1.9v1.9h-1.9zM97.7 458.3h1.9v1.9h-1.9zM97.7 460.6h1.9v1.9h-1.9zM97.7 464.0h1.9v1.9h-1.9zM97.7 467.0h1.9v1.9h-1.9zM97.7 469.9h1.9v1.9h-1.9zM100.4 444.5h1.9v1.9h-1.9zM100.4 451.0h1.9v1.9h-1.9zM100.4 453.9h1.9v1.9h-1.9zM100.4 457.4h1.9v1.9h-1.9zM100.4 460.1h1.9v1.9h-1.9zM100.4 463.8h1.9v1.9h-1.9zM100.4 466.7h1.9v1.9h-1.9zM100.4 469.9h1.9v1.9h-1.9zM103.4 450.5h1.9v1.9h-1.9zM103.4 452.2h1.9v1.9h-1.9zM103.4 456.4h1.9v1.9h-1.9zM103.4 459.8h1.9v1.9h-1.9zM103.4 463.5h1.9v1.9h-1.9zM103.4 466.5h1.9v1.9h-1.9zM103.4 469.4h1.9v1.9h-1.9zM106.4 449.2h1.9v1.9h-1.9zM106.4 452.2h1.9v1.9h-1.9zM106.4 456.4h1.9v1.9h-1.9zM106.4 459.6h1.9v1.9h-1.9zM106.4 463.5h1.9v1.9h-1.9zM106.4 466.2h1.9v1.9h-1.9zM106.4 469.2h1.9v1.9h-1.9zM109.1 451.7h1.9v1.9h-1.9zM109.1 455.9h1.9v1.9h-1.9zM109.1 458.3h1.9v1.9h-1.9zM109.1 462.8h1.9v1.9h-1.9zM109.1 465.7h1.9v1.9h-1.9zM109.1 468.9h1.9v1.9h-1.9zM112.0 455.6h1.9v1.9h-1.9zM112.0 462.8h1.9v1.9h-1.9zM112.0 465.7h1.9v1.9h-1.9zM112.0 468.5h1.9v1.9h-1.9zM115.0 455.4h1.9v1.9h-1.9zM115.0 462.5h1.9v1.9h-1.9zM115.0 465.5h1.9v1.9h-1.9zM115.0 468.5h1.9v1.9h-1.9zM117.9 462.3h1.9v1.9h-1.9zM117.9 464.8h1.9v1.9h-1.9zM117.9 468.2h1.9v1.9h-1.9zM120.7 462.3h1.9v1.9h-1.9zM120.7 464.8h1.9v1.9h-1.9zM120.7 468.2h1.9v1.9h-1.9zM123.6 462.5h1.9v1.9h-1.9zM123.6 464.3h1.9v1.9h-1.9zM123.6 467.7h1.9v1.9h-1.9zM90.6 460.9h1.9v1.9h-1.9zM93.5 461.1h1.9v1.9h-1.9zM96.3 460.9h1.9v1.9h-1.9zM99.0 461.2h1.9v1.9h-1.9z"/>
<path fill="#1a1a1a" d="M189.9 362.8h2.1v2.1h-2.1zM192.9 363.9h2.1v2.1h-2.1zM189.9 366.8h2.1v2.1h-2.1zM189.9 375.1h2.1v2.1h-2.1zM192.9 378.9h2.1v2.1h-2.1zM189.9 379.9h2.1v2.1h-2.1zM189.9 389.8h2.1v2.1h-2.1zM195.9 395.9h2.1v2.1h-2.1zM186.9 396.4h2.1v2.1h-2.1zM189.9 396.4h2.1v2.1h-2.1zM192.9 396.4h2.1v2.1h-2.1zM186.9 397.9h2.1v2.1h-2.1zM192.9 397.9h2.1v2.1h-2.1zM189.9 400.9h2.1v2.1h-2.1zM189.9 404.4h2.1v2.1h-2.1zM186.9 408.8h2.1v2.1h-2.1zM189.9 408.8h2.1v2.1h-2.1zM192.9 408.8h2.1v2.1h-2.1zM187.2 415.2h2.1v2.1h-2.1zM190.2 416.7h2.1v2.1h-2.1zM192.9 415.2h2.1v2.1h-2.1zM192.9 417.9h2.1v2.1h-2.1zM187.2 418.9h2.1v2.1h-2.1zM190.2 419.9h2.1v2.1h-2.1zM187.2 422.8h2.1v2.1h-2.1zM195.9 422.8h2.1v2.1h-2.1zM190.2 424.6h2.1v2.1h-2.1zM192.9 424.3h2.1v2.1h-2.1zM192.9 425.8h2.1v2.1h-2.1zM184.5 425.8h2.1v2.1h-2.1zM195.9 425.3h2.1v2.1h-2.1zM187.2 427.0h2.1v2.1h-2.1zM190.2 428.0h2.1v2.1h-2.1zM181.6 428.5h2.1v2.1h-2.1zM198.8 429.0h2.1v2.1h-2.1zM184.5 429.5h2.1v2.1h-2.1zM187.2 429.7h2.1v2.1h-2.1zM192.9 430.0h2.1v2.1h-2.1zM195.9 429.5h2.1v2.1h-2.1zM190.2 431.7h2.1v2.1h-2.1zM181.6 432.4h2.1v2.1h-2.1zM184.5 433.2h2.1v2.1h-2.1zM195.9 432.9h2.1v2.1h-2.1zM192.9 433.9h2.1v2.1h-2.1zM187.2 434.7h2.1v2.1h-2.1zM190.2 434.9h2.1v2.1h-2.1zM198.8 435.9h2.1v2.1h-2.1zM184.5 437.6h2.1v2.1h-2.1zM187.2 438.1h2.1v2.1h-2.1zM190.2 438.6h2.1v2.1h-2.1zM192.9 438.6h2.1v2.1h-2.1zM195.9 437.9h2.1v2.1h-2.1zM184.5 440.1h2.1v2.1h-2.1zM187.2 440.3h2.1v2.1h-2.1zM192.9 440.1h2.1v2.1h-2.1zM181.6 442.1h2.1v2.1h-2.1zM190.2 441.8h2.1v2.1h-2.1zM167.2 458.2h2.1v2.1h-2.1zM167.2 461.4h2.1v2.1h-2.1zM167.2 464.4h2.1v2.1h-2.1zM170.0 452.6h2.1v2.1h-2.1zM170.0 458.7h2.1v2.1h-2.1zM170.0 461.7h2.1v2.1h-2.1zM170.0 464.4h2.1v2.1h-2.1zM172.9 453.3h2.1v2.1h-2.1zM172.9 459.5h2.1v2.1h-2.1zM172.9 461.4h2.1v2.1h-2.1zM172.9 465.4h2.1v2.1h-2.1zM172.9 467.1h2.1v2.1h-2.1zM175.9 445.9h2.1v2.1h-2.1zM175.9 449.1h2.1v2.1h-2.1zM175.9 453.3h2.1v2.1h-2.1zM175.9 455.8h2.1v2.1h-2.1zM175.9 459.5h2.1v2.1h-2.1zM175.9 462.7h2.1v2.1h-2.1zM175.9 466.1h2.1v2.1h-2.1zM175.9 468.1h2.1v2.1h-2.1zM178.7 446.9h2.1v2.1h-2.1zM178.7 449.9h2.1v2.1h-2.1zM178.7 453.5h2.1v2.1h-2.1zM178.7 456.3h2.1v2.1h-2.1zM178.7 459.7h2.1v2.1h-2.1zM178.7 462.9h2.1v2.1h-2.1zM178.7 466.6h2.1v2.1h-2.1zM178.7 468.6h2.1v2.1h-2.1zM181.8 447.4h2.1v2.1h-2.1zM181.8 450.3h2.1v2.1h-2.1zM181.8 454.3h2.1v2.1h-2.1zM181.8 456.3h2.1v2.1h-2.1zM181.8 460.0h2.1v2.1h-2.1zM181.8 463.2h2.1v2.1h-2.1zM181.8 466.6h2.1v2.1h-2.1zM181.8 469.3h2.1v2.1h-2.1zM184.7 443.4h2.1v2.1h-2.1zM184.7 447.6h2.1v2.1h-2.1zM184.7 450.6h2.1v2.1h-2.1zM184.7 454.3h2.1v2.1h-2.1zM184.7 456.8h2.1v2.1h-2.1zM184.7 460.0h2.1v2.1h-2.1zM184.7 463.7h2.1v2.1h-2.1zM184.7 467.1h2.1v2.1h-2.1zM184.7 469.8h2.1v2.1h-2.1zM187.5 443.9h2.1v2.1h-2.1zM187.5 447.9h2.1v2.1h-2.1zM187.5 450.8h2.1v2.1h-2.1zM187.5 454.8h2.1v2.1h-2.1zM187.5 457.0h2.1v2.1h-2.1zM187.5 460.4h2.1v2.1h-2.1zM187.5 463.9h2.1v2.1h-2.1zM187.5 467.1h2.1v2.1h-2.1zM187.5 469.8h2.1v2.1h-2.1zM190.3 444.9h2.1v2.1h-2.1zM190.3 448.4h2.1v2.1h-2.1zM190.3 451.8h2.1v2.1h-2.1zM190.3 454.8h2.1v2.1h-2.1zM190.3 457.7h2.1v2.1h-2.1zM190.3 460.7h2.1v2.1h-2.1zM190.3 463.9h2.1v2.1h-2.1zM190.3 467.4h2.1v2.1h-2.1zM190.3 469.8h2.1v2.1h-2.1zM193.1 444.9h2.1v2.1h-2.1zM193.1 447.6h2.1v2.1h-2.1zM193.1 451.8h2.1v2.1h-2.1zM193.1 454.5h2.1v2.1h-2.1zM193.1 457.7h2.1v2.1h-2.1zM193.1 460.0h2.1v2.1h-2.1zM193.1 463.9h2.1v2.1h-2.1zM193.1 467.1h2.1v2.1h-2.1zM193.1 469.8h2.1v2.1h-2.1zM196.0 444.4h2.1v2.1h-2.1zM196.0 447.4h2.1v2.1h-2.1zM196.0 450.8h2.1v2.1h-2.1zM196.0 454.0h2.1v2.1h-2.1zM196.0 456.8h2.1v2.1h-2.1zM196.0 460.0h2.1v2.1h-2.1zM196.0 463.9h2.1v2.1h-2.1zM196.0 467.1h2.1v2.1h-2.1zM196.0 469.8h2.1v2.1h-2.1zM198.9 443.2h2.1v2.1h-2.1zM198.9 447.6h2.1v2.1h-2.1zM198.9 450.8h2.1v2.1h-2.1zM198.9 453.8h2.1v2.1h-2.1zM198.9 456.8h2.1v2.1h-2.1zM198.9 460.0h2.1v2.1h-2.1zM198.9 463.7h2.1v2.1h-2.1zM198.9 466.9h2.1v2.1h-2.1zM198.9 469.6h2.1v2.1h-2.1zM201.8 446.9h2.1v2.1h-2.1zM201.8 449.9h2.1v2.1h-2.1zM201.8 453.5h2.1v2.1h-2.1zM201.8 456.0h2.1v2.1h-2.1zM201.8 459.7h2.1v2.1h-2.1zM201.8 463.2h2.1v2.1h-2.1zM201.8 466.4h2.1v2.1h-2.1zM201.8 468.8h2.1v2.1h-2.1zM204.7 449.4h2.1v2.1h-2.1zM204.7 453.3h2.1v2.1h-2.1zM204.7 455.8h2.1v2.1h-2.1zM204.7 459.7h2.1v2.1h-2.1zM204.7 462.9h2.1v2.1h-2.1zM204.7 465.9h2.1v2.1h-2.1zM204.7 468.6h2.1v2.1h-2.1zM207.5 449.1h2.1v2.1h-2.1zM207.5 452.8h2.1v2.1h-2.1zM207.5 459.0h2.1v2.1h-2.1zM207.5 462.4h2.1v2.1h-2.1zM207.5 464.6h2.1v2.1h-2.1zM207.5 467.8h2.1v2.1h-2.1zM210.5 452.6h2.1v2.1h-2.1zM210.5 458.5h2.1v2.1h-2.1zM210.5 461.7h2.1v2.1h-2.1zM210.5 464.4h2.1v2.1h-2.1zM210.5 467.6h2.1v2.1h-2.1zM213.2 458.5h2.1v2.1h-2.1zM213.2 461.4h2.1v2.1h-2.1z"/>
<path fill="#2a2a2a" d="M285.2 349.3l1.30-2.2l1.30 2.2zM285.2 367.9l1.30-2.2l1.30 2.2zM291.2 376.3l1.30-2.2l1.30 2.2zM282.2 377.3l1.30-2.2l1.30 2.2zM285.2 378.1l1.30-2.2l1.30 2.2zM288.2 378.1l1.30-2.2l1.30 2.2zM288.2 388.1l1.30-2.2l1.30 2.2zM282.2 388.9l1.30-2.2l1.30 2.2zM285.2 390.3l1.30-2.2l1.30 2.2zM285.2 394.1l1.30-2.2l1.30 2.2zM288.2 394.1l1.30-2.2l1.30 2.2zM288.2 403.1l1.30-2.2l1.30 2.2zM282.2 404.9l1.30-2.2l1.30 2.2zM285.2 405.9l1.30-2.2l1.30 2.2zM279.2 409.9l1.30-2.2l1.30 2.2zM282.2 410.6l1.30-2.2l1.30 2.2zM285.2 410.6l1.30-2.2l1.30 2.2zM288.2 410.6l1.30-2.2l1.30 2.2zM291.2 410.6l1.30-2.2l1.30 2.2zM282.2 412.1l1.30-2.2l1.30 2.2zM285.2 415.6l1.30-2.2l1.30 2.2zM282.2 417.3l1.30-2.2l1.30 2.2zM285.2 419.1l1.30-2.2l1.30 2.2zM288.2 417.6l1.30-2.2l1.30 2.2zM290.9 417.6l1.30-2.2l1.30 2.2zM276.6 419.1l1.30-2.2l1.30 2.2zM279.5 420.5l1.30-2.2l1.30 2.2zM282.2 421.8l1.30-2.2l1.30 2.2zM285.2 422.0l1.30-2.2l1.30 2.2zM288.2 420.6l1.30-2.2l1.30 2.2zM290.9 419.5l1.30-2.2l1.30 2.2zM288.2 424.5l1.30-2.2l1.30 2.2zM285.2 426.2l1.30-2.2l1.30 2.2zM279.5 429.2l1.30-2.2l1.30 2.2zM282.2 430.2l1.30-2.2l1.30 2.2zM285.2 430.7l1.30-2.2l1.30 2.2zM288.2 430.2l1.30-2.2l1.30 2.2zM276.6 431.4l1.30-2.2l1.30 2.2zM294.1 431.4l1.30-2.2l1.30 2.2zM279.5 432.9l1.30-2.2l1.30 2.2zM282.2 433.4l1.30-2.2l1.30 2.2zM285.2 434.1l1.30-2.2l1.30 2.2zM288.2 433.6l1.30-2.2l1.30 2.2zM290.9 433.1l1.30-2.2l1.30 2.2zM276.6 434.5l1.30-2.2l1.30 2.2zM279.5 436.1l1.30-2.2l1.30 2.2zM279.5 437.8l1.30-2.2l1.30 2.2zM282.2 436.8l1.30-2.2l1.30 2.2zM282.2 438.8l1.30-2.2l1.30 2.2zM285.2 437.2l1.30-2.2l1.30 2.2zM288.2 435.8l1.30-2.2l1.30 2.2zM290.9 436.1l1.30-2.2l1.30 2.2zM290.9 438.5l1.30-2.2l1.30 2.2zM288.2 439.8l1.30-2.2l1.30 2.2zM285.2 440.3l1.30-2.2l1.30 2.2zM282.2 441.3l1.30-2.2l1.30 2.2zM285.2 443.2l1.30-2.2l1.30 2.2zM256.6 466.8l1.30-2.2l1.30 2.2zM259.4 460.4l1.30-2.2l1.30 2.2zM259.4 466.8l1.30-2.2l1.30 2.2zM259.4 470.2l1.30-2.2l1.30 2.2zM262.3 460.9l1.30-2.2l1.30 2.2zM262.3 467.3l1.30-2.2l1.30 2.2zM262.3 470.5l1.30-2.2l1.30 2.2zM265.3 461.1l1.30-2.2l1.30 2.2zM265.3 467.5l1.30-2.2l1.30 2.2zM265.3 470.7l1.30-2.2l1.30 2.2zM268.2 454.2l1.30-2.2l1.30 2.2zM268.2 461.6l1.30-2.2l1.30 2.2zM268.2 467.8l1.30-2.2l1.30 2.2zM268.2 470.7l1.30-2.2l1.30 2.2zM270.9 451.8l1.30-2.2l1.30 2.2zM270.9 454.7l1.30-2.2l1.30 2.2zM270.9 461.6l1.30-2.2l1.30 2.2zM270.9 468.0l1.30-2.2l1.30 2.2zM270.9 470.7l1.30-2.2l1.30 2.2zM273.8 448.1l1.30-2.2l1.30 2.2zM273.8 452.0l1.30-2.2l1.30 2.2zM273.8 455.5l1.30-2.2l1.30 2.2zM273.8 458.2l1.30-2.2l1.30 2.2zM273.8 462.1l1.30-2.2l1.30 2.2zM273.8 468.8l1.30-2.2l1.30 2.2zM273.8 471.5l1.30-2.2l1.30 2.2zM276.6 445.1l1.30-2.2l1.30 2.2zM276.6 448.6l1.30-2.2l1.30 2.2zM276.6 453.0l1.30-2.2l1.30 2.2zM276.6 456.2l1.30-2.2l1.30 2.2zM276.6 458.7l1.30-2.2l1.30 2.2zM276.6 461.9l1.30-2.2l1.30 2.2zM276.6 464.6l1.30-2.2l1.30 2.2zM276.6 468.8l1.30-2.2l1.30 2.2zM276.6 472.0l1.30-2.2l1.30 2.2zM279.6 445.6l1.30-2.2l1.30 2.2zM279.6 450.0l1.30-2.2l1.30 2.2zM279.6 453.0l1.30-2.2l1.30 2.2zM279.6 456.9l1.30-2.2l1.30 2.2zM279.6 458.9l1.30-2.2l1.30 2.2zM279.6 462.4l1.30-2.2l1.30 2.2zM279.6 464.8l1.30-2.2l1.30 2.2zM279.6 468.8l1.30-2.2l1.30 2.2zM279.6 472.0l1.30-2.2l1.30 2.2zM282.4 446.1l1.30-2.2l1.30 2.2zM282.4 450.0l1.30-2.2l1.30 2.2zM282.4 453.2l1.30-2.2l1.30 2.2zM282.4 456.9l1.30-2.2l1.30 2.2zM282.4 459.9l1.30-2.2l1.30 2.2zM282.4 462.6l1.30-2.2l1.30 2.2zM282.4 465.1l1.30-2.2l1.30 2.2zM282.4 469.0l1.30-2.2l1.30 2.2zM282.4 472.2l1.30-2.2l1.30 2.2zM285.2 446.3l1.30-2.2l1.30 2.2zM285.2 450.3l1.30-2.2l1.30 2.2zM285.2 454.0l1.30-2.2l1.30 2.2zM285.2 456.9l1.30-2.2l1.30 2.2zM285.2 460.1l1.30-2.2l1.30 2.2zM285.2 463.1l1.30-2.2l1.30 2.2zM285.2 466.3l1.30-2.2l1.30 2.2zM285.2 469.3l1.30-2.2l1.30 2.2zM285.2 472.2l1.30-2.2l1.30 2.2zM288.1 446.3l1.30-2.2l1.30 2.2zM288.1 450.0l1.30-2.2l1.30 2.2zM288.1 453.2l1.30-2.2l1.30 2.2zM288.1 456.9l1.30-2.2l1.30 2.2zM288.1 459.9l1.30-2.2l1.30 2.2zM288.1 462.8l1.30-2.2l1.30 2.2zM288.1 465.8l1.30-2.2l1.30 2.2zM288.1 469.3l1.30-2.2l1.30 2.2zM288.1 472.2l1.30-2.2l1.30 2.2zM291.1 445.6l1.30-2.2l1.30 2.2zM291.1 449.0l1.30-2.2l1.30 2.2zM291.1 453.2l1.30-2.2l1.30 2.2zM291.1 456.4l1.30-2.2l1.30 2.2zM291.1 459.9l1.30-2.2l1.30 2.2zM291.1 462.4l1.30-2.2l1.30 2.2zM291.1 464.8l1.30-2.2l1.30 2.2zM291.1 468.5l1.30-2.2l1.30 2.2zM291.1 471.7l1.30-2.2l1.30 2.2zM294.0 445.3l1.30-2.2l1.30 2.2zM294.0 448.3l1.30-2.2l1.30 2.2zM294.0 452.7l1.30-2.2l1.30 2.2zM294.0 456.2l1.30-2.2l1.30 2.2zM294.0 458.9l1.30-2.2l1.30 2.2zM294.0 462.1l1.30-2.2l1.30 2.2zM294.0 464.6l1.30-2.2l1.30 2.2zM294.0 468.5l1.30-2.2l1.30 2.2zM294.0 471.7l1.30-2.2l1.30 2.2zM296.7 445.3l1.30-2.2l1.30 2.2zM296.7 447.8l1.30-2.2l1.30 2.2zM296.7 452.5l1.30-2.2l1.30 2.2zM296.7 455.5l1.30-2.2l1.30 2.2zM296.7 458.9l1.30-2.2l1.30 2.2zM296.7 462.1l1.30-2.2l1.30 2.2zM296.7 468.5l1.30-2.2l1.30 2.2zM296.7 471.7l1.30-2.2l1.30 2.2zM299.7 452.0l1.30-2.2l1.30 2.2zM299.7 454.5l1.30-2.2l1.30 2.2zM299.7 457.4l1.30-2.2l1.30 2.2zM299.7 461.9l1.30-2.2l1.30 2.2zM299.7 468.0l1.30-2.2l1.30 2.2zM299.7 470.7l1.30-2.2l1.30 2.2zM302.4 451.3l1.30-2.2l1.30 2.2zM302.4 461.4l1.30-2.2l1.30 2.2zM302.4 467.8l1.30-2.2l1.30 2.2zM302.4 470.7l1.30-2.2l1.30 2.2zM305.4 461.1l1.30-2.2l1.30 2.2zM305.4 467.5l1.30-2.2l1.30 2.2zM305.4 470.5l1.30-2.2l1.30 2.2zM308.1 461.1l1.30-2.2l1.30 2.2zM308.1 466.8l1.30-2.2l1.30 2.2zM308.1 470.2l1.30-2.2l1.30 2.2zM311.0 466.5l1.30-2.2l1.30 2.2zM311.0 470.2l1.30-2.2l1.30 2.2zM313.9 466.5l1.30-2.2l1.30 2.2zM313.9 470.2l1.30-2.2l1.30 2.2z"/>
<path fill="#1a1a1a" d="M462.1 414.8h1.9v1.9h-1.9zM465.1 414.8h1.9v1.9h-1.9zM459.1 418.6h1.9v1.9h-1.9zM462.1 419.6h1.9v1.9h-1.9zM459.1 421.9h1.9v1.9h-1.9zM433.7 443.3h1.9v1.9h-1.9zM436.5 440.1h1.9v1.9h-1.9zM436.5 443.3h1.9v1.9h-1.9zM439.4 440.6h1.9v1.9h-1.9zM439.4 443.3h1.9v1.9h-1.9zM442.1 441.0h1.9v1.9h-1.9zM442.1 444.0h1.9v1.9h-1.9zM444.9 441.0h1.9v1.9h-1.9zM444.9 444.2h1.9v1.9h-1.9zM447.8 437.1h1.9v1.9h-1.9zM447.8 441.3h1.9v1.9h-1.9zM447.8 444.2h1.9v1.9h-1.9zM450.5 437.3h1.9v1.9h-1.9zM450.5 441.5h1.9v1.9h-1.9zM450.5 444.5h1.9v1.9h-1.9zM453.3 437.8h1.9v1.9h-1.9zM453.3 441.5h1.9v1.9h-1.9zM453.3 445.2h1.9v1.9h-1.9zM456.2 427.7h1.9v1.9h-1.9zM456.2 433.4h1.9v1.9h-1.9zM456.2 438.3h1.9v1.9h-1.9zM456.2 442.0h1.9v1.9h-1.9zM456.2 444.7h1.9v1.9h-1.9zM458.9 428.7h1.9v1.9h-1.9zM458.9 430.9h1.9v1.9h-1.9zM458.9 435.1h1.9v1.9h-1.9zM458.9 438.3h1.9v1.9h-1.9zM458.9 442.0h1.9v1.9h-1.9zM458.9 445.2h1.9v1.9h-1.9zM461.8 424.5h1.9v1.9h-1.9zM461.8 429.7h1.9v1.9h-1.9zM461.8 433.2h1.9v1.9h-1.9zM461.8 436.1h1.9v1.9h-1.9zM461.8 439.6h1.9v1.9h-1.9zM461.8 443.0h1.9v1.9h-1.9zM461.8 445.7h1.9v1.9h-1.9zM464.7 424.5h1.9v1.9h-1.9zM464.7 428.5h1.9v1.9h-1.9zM464.7 431.9h1.9v1.9h-1.9zM464.7 435.4h1.9v1.9h-1.9zM464.7 438.8h1.9v1.9h-1.9zM464.7 442.0h1.9v1.9h-1.9zM464.7 445.5h1.9v1.9h-1.9zM467.4 427.2h1.9v1.9h-1.9zM467.4 438.3h1.9v1.9h-1.9zM467.4 442.0h1.9v1.9h-1.9zM467.4 445.2h1.9v1.9h-1.9zM470.3 437.8h1.9v1.9h-1.9zM470.3 441.5h1.9v1.9h-1.9zM470.3 445.2h1.9v1.9h-1.9zM473.1 437.6h1.9v1.9h-1.9zM473.1 441.3h1.9v1.9h-1.9zM473.1 444.5h1.9v1.9h-1.9zM475.8 437.1h1.9v1.9h-1.9zM475.8 440.8h1.9v1.9h-1.9zM475.8 444.2h1.9v1.9h-1.9zM478.7 437.1h1.9v1.9h-1.9zM478.7 441.0h1.9v1.9h-1.9zM478.7 444.0h1.9v1.9h-1.9zM481.5 441.0h1.9v1.9h-1.9zM481.5 444.0h1.9v1.9h-1.9zM484.2 440.3h1.9v1.9h-1.9zM484.2 443.5h1.9v1.9h-1.9zM487.1 443.3h1.9v1.9h-1.9zM490.0 443.3h1.9v1.9h-1.9zM460.4 442.6h1.9v1.9h-1.9zM463.4 442.8h1.9v1.9h-1.9zM466.2 442.4h1.9v1.9h-1.9z"/>
<path fill="#1a1a1a" d="M555.5 381.9h2.1v2.1h-2.1zM552.5 411.4h2.1v2.1h-2.1zM555.5 412.1h2.1v2.1h-2.1zM555.5 418.8h2.1v2.1h-2.1zM552.5 420.8h2.1v2.1h-2.1zM558.0 420.8h2.1v2.1h-2.1zM527.1 442.9h2.1v2.1h-2.1zM530.1 443.2h2.1v2.1h-2.1zM532.8 439.7h2.1v2.1h-2.1zM532.8 443.2h2.1v2.1h-2.1zM535.8 439.7h2.1v2.1h-2.1zM535.8 443.2h2.1v2.1h-2.1zM538.6 437.0h2.1v2.1h-2.1zM538.6 440.2h2.1v2.1h-2.1zM538.6 443.4h2.1v2.1h-2.1zM541.3 437.0h2.1v2.1h-2.1zM541.3 440.9h2.1v2.1h-2.1zM541.3 443.9h2.1v2.1h-2.1zM544.0 437.5h2.1v2.1h-2.1zM544.0 440.9h2.1v2.1h-2.1zM544.0 444.4h2.1v2.1h-2.1zM547.0 437.7h2.1v2.1h-2.1zM547.0 441.9h2.1v2.1h-2.1zM547.0 444.6h2.1v2.1h-2.1zM549.7 434.8h2.1v2.1h-2.1zM549.7 438.2h2.1v2.1h-2.1zM549.7 441.9h2.1v2.1h-2.1zM549.7 444.6h2.1v2.1h-2.1zM552.5 426.2h2.1v2.1h-2.1zM552.5 430.3h2.1v2.1h-2.1zM552.5 436.0h2.1v2.1h-2.1zM552.5 438.7h2.1v2.1h-2.1zM552.5 442.2h2.1v2.1h-2.1zM552.5 445.1h2.1v2.1h-2.1zM555.3 423.4h2.1v2.1h-2.1zM555.3 426.4h2.1v2.1h-2.1zM555.3 429.4h2.1v2.1h-2.1zM555.3 433.1h2.1v2.1h-2.1zM555.3 436.0h2.1v2.1h-2.1zM555.3 439.0h2.1v2.1h-2.1zM555.3 442.2h2.1v2.1h-2.1zM555.3 445.6h2.1v2.1h-2.1zM558.0 426.2h2.1v2.1h-2.1zM558.0 431.8h2.1v2.1h-2.1zM558.0 434.8h2.1v2.1h-2.1zM558.0 439.0h2.1v2.1h-2.1zM558.0 442.2h2.1v2.1h-2.1zM558.0 445.6h2.1v2.1h-2.1zM561.1 430.1h2.1v2.1h-2.1zM561.1 433.5h2.1v2.1h-2.1zM561.1 438.0h2.1v2.1h-2.1zM561.1 441.7h2.1v2.1h-2.1zM561.1 445.1h2.1v2.1h-2.1zM563.8 437.7h2.1v2.1h-2.1zM563.8 441.2h2.1v2.1h-2.1zM563.8 444.9h2.1v2.1h-2.1zM566.7 437.5h2.1v2.1h-2.1zM566.7 440.7h2.1v2.1h-2.1zM566.7 444.6h2.1v2.1h-2.1zM569.3 436.8h2.1v2.1h-2.1zM569.3 440.0h2.1v2.1h-2.1zM569.3 443.9h2.1v2.1h-2.1zM572.2 437.0h2.1v2.1h-2.1zM572.2 439.7h2.1v2.1h-2.1zM572.2 443.4h2.1v2.1h-2.1zM574.9 439.7h2.1v2.1h-2.1zM574.9 443.2h2.1v2.1h-2.1zM577.9 439.7h2.1v2.1h-2.1zM577.9 443.2h2.1v2.1h-2.1zM580.6 443.2h2.1v2.1h-2.1zM583.4 442.9h2.1v2.1h-2.1z"/>
<path fill="#2a2a2a" d="M648.7 399.3l1.30-2.2l1.30 2.2zM651.2 417.1l1.30-2.2l1.30 2.2zM648.7 418.3l1.30-2.2l1.30 2.2zM645.7 421.6l1.30-2.2l1.30 2.2zM648.7 423.1l1.30-2.2l1.30 2.2zM620.1 445.3l1.30-2.2l1.30 2.2zM623.1 445.6l1.30-2.2l1.30 2.2zM626.1 442.1l1.30-2.2l1.30 2.2zM626.1 445.6l1.30-2.2l1.30 2.2zM628.8 442.6l1.30-2.2l1.30 2.2zM628.8 446.3l1.30-2.2l1.30 2.2zM631.6 442.6l1.30-2.2l1.30 2.2zM631.6 446.3l1.30-2.2l1.30 2.2zM634.4 443.3l1.30-2.2l1.30 2.2zM634.4 446.3l1.30-2.2l1.30 2.2zM637.2 443.3l1.30-2.2l1.30 2.2zM637.2 446.8l1.30-2.2l1.30 2.2zM640.1 436.2l1.30-2.2l1.30 2.2zM640.1 439.9l1.30-2.2l1.30 2.2zM640.1 443.8l1.30-2.2l1.30 2.2zM640.1 446.8l1.30-2.2l1.30 2.2zM642.9 431.8l1.30-2.2l1.30 2.2zM642.9 434.0l1.30-2.2l1.30 2.2zM642.9 437.2l1.30-2.2l1.30 2.2zM642.9 440.9l1.30-2.2l1.30 2.2zM642.9 444.3l1.30-2.2l1.30 2.2zM642.9 446.8l1.30-2.2l1.30 2.2zM645.5 428.1l1.30-2.2l1.30 2.2zM645.5 432.5l1.30-2.2l1.30 2.2zM645.5 434.7l1.30-2.2l1.30 2.2zM645.5 439.1l1.30-2.2l1.30 2.2zM645.5 441.6l1.30-2.2l1.30 2.2zM645.5 444.6l1.30-2.2l1.30 2.2zM645.5 448.0l1.30-2.2l1.30 2.2zM648.4 428.3l1.30-2.2l1.30 2.2zM648.4 432.7l1.30-2.2l1.30 2.2zM648.4 435.9l1.30-2.2l1.30 2.2zM648.4 439.1l1.30-2.2l1.30 2.2zM648.4 442.4l1.30-2.2l1.30 2.2zM648.4 445.1l1.30-2.2l1.30 2.2zM648.4 448.0l1.30-2.2l1.30 2.2zM651.2 428.3l1.30-2.2l1.30 2.2zM651.2 432.0l1.30-2.2l1.30 2.2zM651.2 435.5l1.30-2.2l1.30 2.2zM651.2 438.7l1.30-2.2l1.30 2.2zM651.2 442.1l1.30-2.2l1.30 2.2zM651.2 444.6l1.30-2.2l1.30 2.2zM651.2 447.8l1.30-2.2l1.30 2.2zM654.1 434.2l1.30-2.2l1.30 2.2zM654.1 436.7l1.30-2.2l1.30 2.2zM654.1 441.1l1.30-2.2l1.30 2.2zM654.1 444.3l1.30-2.2l1.30 2.2zM654.1 447.5l1.30-2.2l1.30 2.2zM657.0 434.0l1.30-2.2l1.30 2.2zM657.0 440.9l1.30-2.2l1.30 2.2zM657.0 443.3l1.30-2.2l1.30 2.2zM657.0 446.8l1.30-2.2l1.30 2.2zM659.8 439.1l1.30-2.2l1.30 2.2zM659.8 443.3l1.30-2.2l1.30 2.2zM659.8 446.8l1.30-2.2l1.30 2.2zM662.5 442.6l1.30-2.2l1.30 2.2zM662.5 446.5l1.30-2.2l1.30 2.2zM665.2 442.6l1.30-2.2l1.30 2.2zM665.2 446.3l1.30-2.2l1.30 2.2zM668.0 442.4l1.30-2.2l1.30 2.2zM668.0 446.3l1.30-2.2l1.30 2.2zM671.0 442.1l1.30-2.2l1.30 2.2zM671.0 445.8l1.30-2.2l1.30 2.2zM673.7 445.8l1.30-2.2l1.30 2.2zM676.5 445.8l1.30-2.2l1.30 2.2zM646.9 445.0l1.30-2.2l1.30 2.2zM649.7 445.1l1.30-2.2l1.30 2.2zM652.5 444.9l1.30-2.2l1.30 2.2z"/>
</svg>
</body></html>
